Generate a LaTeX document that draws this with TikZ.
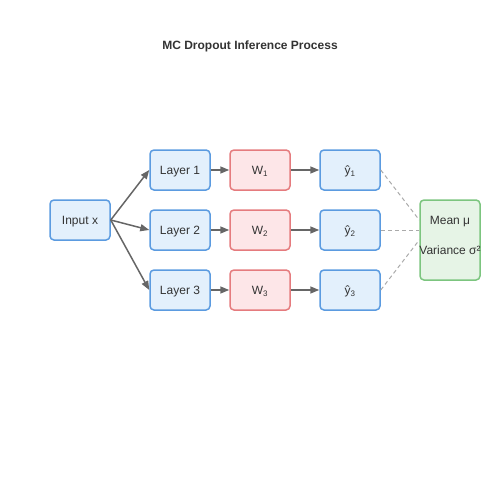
\documentclass[tikz,border=0pt]{standalone}
\usepackage{fontspec}
\setmainfont{Liberation Sans}
\usetikzlibrary{arrows.meta,positioning}

\definecolor{textgray}{HTML}{333333}
\definecolor{arrowgray}{HTML}{666666}
\definecolor{dashgray}{HTML}{AAAAAA}
\definecolor{bluefill}{HTML}{E3F0FC}
\definecolor{blueline}{HTML}{5B9BE0}
\definecolor{redfill}{HTML}{FDE6E8}
\definecolor{redline}{HTML}{E57B7E}
\definecolor{greenfill}{HTML}{E6F4E6}
\definecolor{greenline}{HTML}{7CC57F}

\begin{document}
\begin{tikzpicture}[x=1pt,y=-1pt,>={Triangle[length=9pt,width=7pt]},
  lbl/.style={text=textgray,font=\fontsize{12}{14}\selectfont,text height=8.6pt,text depth=0pt},
  box/.style={lbl,draw,rounded corners=4pt,line width=1.5pt,minimum width=60pt,
    minimum height=40pt,inner sep=0pt},
  layerbox/.style={box,draw=blueline,fill=bluefill},
  maskbox/.style={box,draw=redline,fill=redfill},
  statbox/.style={box,draw=greenline,fill=greenfill,minimum height=80pt},
  flow/.style={->,draw=arrowgray,line width=1.5pt},
  agg/.style={draw=dashgray,line width=1pt,dash pattern=on 4pt off 3pt}]
  \useasboundingbox (0,0) rectangle (500,500);

  % Title
  \node[lbl,font=\bfseries\fontsize{12}{14}\selectfont] (title) at (250,45)
    {MC Dropout Inference Process};

  % Input and aggregation
  \node[layerbox] (input) at (80,220) {Input x};
  \node[statbox] (stats) at (450,240) {};
  \node[lbl] (meanlbl) at (450,220) {Mean μ};
  \node[lbl] (varlbl) at (450,250) {Variance σ²};

  % Stochastic forward passes
  \foreach \i/\y/\dy in {1/170/20,2/230/10,3/290/0}{
    \node[layerbox] (layer\i) at (180,\y) {Layer \i};
    \node[maskbox] (mask\i) at (260,\y) {W\textsubscript{\i}};
    \node[layerbox] (yhat\i) at (350,\y) {ŷ\textsubscript{\i}};
    \draw[flow] (input.east) -- (layer\i.west);
    \draw[flow] (layer\i) -- (mask\i);
    \draw[flow] (mask\i) -- (yhat\i);
    \draw[agg] (yhat\i.east) -- ([yshift=\dy pt]stats.west);
  }
\end{tikzpicture}
\end{document}
